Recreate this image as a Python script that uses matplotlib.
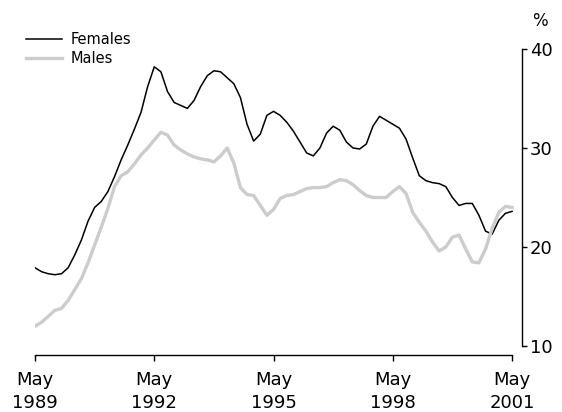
import numpy as np
import matplotlib
matplotlib.use("Agg")
from matplotlib import pyplot as plt

# months since May 1989, sampled every second month
months = np.arange(0, 145, 2)

females = [17.9, 17.5, 17.3, 17.2, 17.3, 17.9, 19.2, 20.7, 22.6, 24.0,
           24.6, 25.6, 27.1, 28.8, 30.3, 31.9, 33.6, 36.2, 38.2, 37.7,
           35.7, 34.6, 34.3, 34.0, 34.8, 36.2, 37.3, 37.8, 37.7, 37.1,
           36.5, 35.1, 32.4, 30.7, 31.4, 33.3, 33.7, 33.3, 32.6, 31.7,
           30.6, 29.5, 29.2, 30.0, 31.5, 32.2, 31.8, 30.6, 30.0, 29.9,
           30.4, 32.2, 33.2, 32.8, 32.4, 32.0, 30.9, 29.0, 27.2, 26.7,
           26.5, 26.4, 26.1, 25.0, 24.2, 24.4, 24.4, 23.2, 21.6, 21.3,
           22.7, 23.4, 23.6]

males = [12.0, 12.4, 13.0, 13.6, 13.8, 14.6, 15.7, 16.8, 18.4, 20.2,
         22.0, 23.9, 26.1, 27.2, 27.6, 28.4, 29.3, 30.0, 30.8, 31.6,
         31.3, 30.3, 29.8, 29.4, 29.1, 28.9, 28.8, 28.6, 29.2, 30.0,
         28.5, 26.0, 25.3, 25.2, 24.2, 23.2, 23.8, 24.9, 25.2, 25.3,
         25.6, 25.9, 26.0, 26.0, 26.1, 26.5, 26.8, 26.7, 26.3, 25.7,
         25.2, 25.0, 25.0, 25.0, 25.6, 26.1, 25.4, 23.5, 22.5, 21.6,
         20.5, 19.6, 20.0, 21.0, 21.2, 19.8, 18.5, 18.4, 19.8, 21.9,
         23.5, 24.1, 24.0]

tick_pos = [0, 36, 72, 108, 144]
tick_labels = ["May\n1989", "May\n1992", "May\n1995", "May\n1998", "May\n2001"]
y_ticks = [10, 20, 30, 40]

plt.rcParams["font.family"] = ["DejaVu Sans"]

fig = plt.figure(figsize=(5.62, 4.12), dpi=100)
ax = fig.add_axes([35 / 562, 66 / 412, 487 / 562, 297 / 412])

ax.plot(months, females, color="black", lw=1.1, label="Females",
        solid_joinstyle="round")
ax.plot(months, males, color="#cccccc", lw=2.4, label="Males",
        solid_joinstyle="round")

ax.set_xlim(0, 147)
ax.set_ylim(10, 40)

# spines: only right and bottom, detached from each other
ax.spines["top"].set_visible(False)
ax.spines["left"].set_visible(False)
ax.spines["bottom"].set_position(("outward", 6.5))
ax.spines["bottom"].set_bounds(0, 144)
ax.spines["right"].set_linewidth(1.0)
ax.spines["bottom"].set_linewidth(1.0)

ax.yaxis.tick_right()
ax.set_yticks(y_ticks)
ax.tick_params(axis="y", direction="out", length=3.8, width=1.0,
               labelsize=13, pad=2)
ax.set_xticks(tick_pos)
ax.set_xticklabels(tick_labels, linespacing=1.35)
ax.tick_params(axis="x", direction="out", length=4.5, width=1.0,
               labelsize=13, pad=7)

fig.text(532 / 562, 1 - 21 / 412, "%", fontsize=12, ha="left", va="center")

fig.legend(loc="upper left", bbox_to_anchor=(26 / 562, 1 - 32 / 412),
           frameon=False, fontsize=10.5, handlelength=2.5, handletextpad=0.55,
           borderpad=0, borderaxespad=0, labelspacing=0.3)

fig.savefig("out.png", dpi=100)
